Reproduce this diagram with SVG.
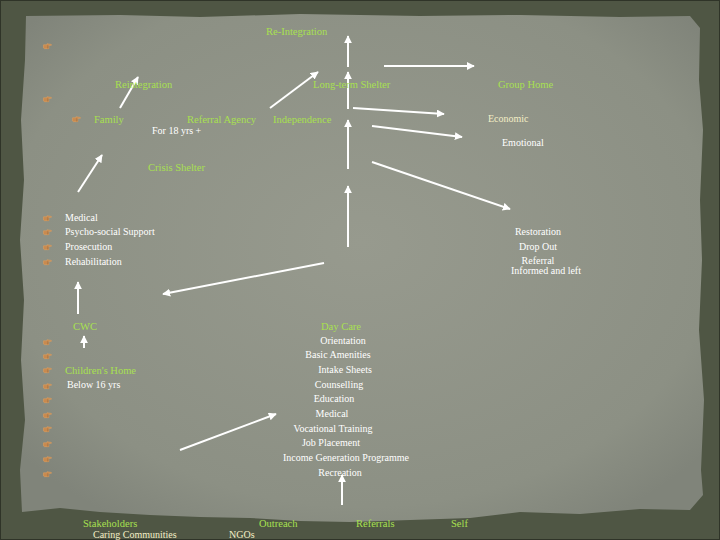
<svg xmlns="http://www.w3.org/2000/svg" width="720" height="540" viewBox="0 0 720 540">
<defs>
<radialGradient id="paper" cx="50%" cy="45%" r="65%">
<stop offset="0" stop-color="#979a8e"/>
<stop offset="0.8" stop-color="#8c9084"/>
<stop offset="1" stop-color="#80847a"/>
</radialGradient>
<marker id="ah" viewBox="0 0 10 10" refX="9" refY="5" markerWidth="8" markerHeight="8" markerUnits="userSpaceOnUse" orient="auto">
<path d="M0,0 L10,5 L0,10 Z" fill="#ffffff"/>
</marker>
<symbol id="hand" viewBox="0 0 10 7" overflow="visible">
<path d="M0.5,2 L4,2 L4.5,0.8 L9.3,1.6 L9.3,2.6 L6,2.8 L6.5,3.6 L6.5,6.3 L1.5,6.3 L0.5,5.4 Z" fill="#c98a4e" stroke="#e0a060" stroke-width="0.6" stroke-linejoin="round"/>
<path d="M4.5,3.2 L6.4,3.2 M4.5,4.4 L6.4,4.4 M4.5,5.5 L6.2,5.5" stroke="#8f6a45" stroke-width="0.5"/>
</symbol>
<style>
.g{font-family:"Liberation Serif","Times New Roman",serif;font-size:10.5px;fill:#a8e050}
.w{font-family:"Liberation Serif","Times New Roman",serif;font-size:10px;fill:#ffffff}
.c{font-family:"Liberation Serif","Times New Roman",serif;font-size:10px;fill:#f3eec6}
.m{text-anchor:middle}
.a{stroke:#ffffff;stroke-width:2;fill:none;marker-end:url(#ah)}
</style>
</defs>
<rect x="0" y="0" width="720" height="540" fill="#4f5644"/>
<rect x="0.5" y="0.5" width="719" height="539" fill="none" stroke="#2f3428" stroke-width="1"/>
<path d="M26,16 L120,15 L200,17 L300,14 L420,16 L520,15 L620,17 L690,16 L700,28 L699,80 L703,130 L700,200 L702,260 L699,330 L704,400 L701,470 L703,495 L690,510 L640,509 L580,514 L520,512 L470,518 L410,520 L350,522 L300,521 L250,518 L200,517 L150,515 L100,512 L60,508 L22,512 L20,470 L25,420 L21,360 L24,300 L20,240 L24,180 L21,120 L25,60 Z" fill="url(#paper)"/>
<g id="connectors">
<line class="a" x1="348" y1="67" x2="348" y2="36"/>
<line class="a" x1="348" y1="109" x2="348" y2="72"/>
<line class="a" x1="348" y1="169" x2="348" y2="120"/>
<line class="a" x1="348" y1="247" x2="348" y2="186"/>
<line class="a" x1="384" y1="66" x2="474" y2="66"/>
<line class="a" x1="353" y1="108" x2="444" y2="114"/>
<line class="a" x1="372" y1="126" x2="462" y2="137"/>
<line class="a" x1="372" y1="162" x2="510" y2="209"/>
<line class="a" x1="270" y1="108" x2="318" y2="72"/>
<line class="a" x1="120" y1="108" x2="138" y2="77"/>
<line class="a" x1="78" y1="192" x2="102" y2="155"/>
<line class="a" x1="324" y1="263" x2="163" y2="294"/>
<line class="a" x1="78" y1="314" x2="78" y2="282"/>
<line class="a" x1="84" y1="348" x2="84" y2="336"/>
<line class="a" x1="180" y1="450" x2="276" y2="414"/>
<line class="a" x1="342" y1="505" x2="342" y2="475"/>
</g>
<g id="bullets">
<use href="#hand" x="43" y="43" width="9" height="6.3"/>
<use href="#hand" x="43" y="96" width="9" height="6.3"/>
<use href="#hand" x="72" y="116" width="9" height="6.3"/>
<use href="#hand" x="43" y="215" width="9" height="6.3"/>
<use href="#hand" x="43" y="229" width="9" height="6.3"/>
<use href="#hand" x="43" y="244" width="9" height="6.3"/>
<use href="#hand" x="43" y="259" width="9" height="6.3"/>
<use href="#hand" x="43" y="339" width="9" height="6.3"/>
<use href="#hand" x="43" y="353" width="9" height="6.3"/>
<use href="#hand" x="43" y="367" width="9" height="6.3"/>
<use href="#hand" x="43" y="383" width="9" height="6.3"/>
<use href="#hand" x="43" y="397" width="9" height="6.3"/>
<use href="#hand" x="43" y="412" width="9" height="6.3"/>
<use href="#hand" x="43" y="426" width="9" height="6.3"/>
<use href="#hand" x="43" y="441" width="9" height="6.3"/>
<use href="#hand" x="43" y="456" width="9" height="6.3"/>
<use href="#hand" x="43" y="471" width="9" height="6.3"/>
</g>
<g id="reintegration-top"><text class="g" x="266" y="35">Re-Integration</text></g>
<g id="reintegration"><text class="g" x="115" y="88">Reintegration</text></g>
<g id="long-term-shelter"><text class="g" x="313" y="88">Long-term Shelter</text></g>
<g id="group-home"><text class="g" x="498" y="88">Group Home</text></g>
<g id="family"><text class="g" x="94" y="123">Family</text></g>
<g id="referral-agency"><text class="g" x="187" y="123">Referral Agency</text></g>
<g id="for18"><text class="w" x="152" y="134">For 18 yrs +</text></g>
<g id="independence"><text class="g" x="273" y="123">Independence</text></g>
<g id="economic"><text class="c" x="488" y="122">Economic</text></g>
<g id="emotional"><text class="w" x="502" y="146">Emotional</text></g>
<g id="crisis-shelter"><text class="g" x="148" y="171">Crisis Shelter</text></g>
<g id="crisis-list">
<text class="w" x="65" y="221">Medical</text>
<text class="w" x="65" y="235">Psycho-social Support</text>
<text class="w" x="65" y="250">Prosecution</text>
<text class="w" x="65" y="265">Rehabilitation</text>
</g>
<g id="outcomes">
<text class="w m" x="538" y="235">Restoration</text>
<text class="w m" x="538" y="250">Drop Out</text>
<text class="w m" x="538" y="264">Referral</text>
<text class="w m" x="546" y="274">Informed and left</text>
</g>
<g id="cwc"><text class="g" x="73" y="330">CWC</text></g>
<g id="childrens-home"><text class="g" x="65" y="374">Children's Home</text></g>
<g id="below16"><text class="w" x="67" y="388">Below 16 yrs</text></g>
<g id="day-care"><text class="g m" x="341" y="330">Day Care</text></g>
<g id="day-care-list">
<text class="w m" x="343" y="344">Orientation</text>
<text class="w m" x="338" y="358">Basic Amenities</text>
<text class="w m" x="345" y="373">Intake Sheets</text>
<text class="w m" x="339" y="388">Counselling</text>
<text class="w m" x="334" y="402">Education</text>
<text class="w m" x="332" y="417">Medical</text>
<text class="w m" x="333" y="432">Vocational Training</text>
<text class="w m" x="331" y="446">Job Placement</text>
<text class="w m" x="346" y="461">Income Generation Programme</text>
<text class="w m" x="340" y="476">Recreation</text>
</g>
<g id="stakeholders"><text class="g" x="83" y="527">Stakeholders</text></g>
<g id="outreach"><text class="g" x="259" y="527">Outreach</text></g>
<g id="referrals"><text class="g" x="356" y="527">Referrals</text></g>
<g id="self"><text class="g" x="451" y="527">Self</text></g>
<g id="caring"><text class="c" x="93" y="538">Caring Communities</text></g>
<g id="ngos"><text class="c" x="229" y="538">NGOs</text></g>
</svg>
